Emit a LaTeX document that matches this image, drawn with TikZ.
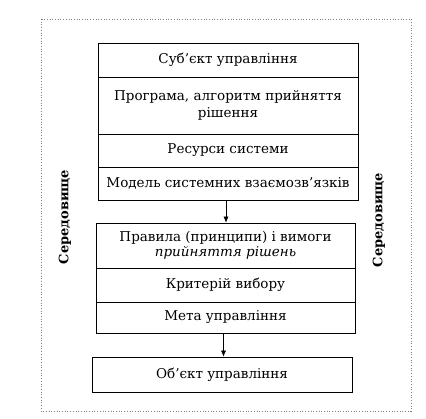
\documentclass[tikz,border=0pt]{standalone}
\usepackage{fontspec}
\setmainfont{DejaVu Serif}
\usetikzlibrary{arrows.meta}
\begin{document}
\begin{tikzpicture}[x=1pt,y=-1pt,
  row/.style={draw, line width=0.8pt, inner sep=0pt, align=center, font=\fontsize{13.5}{16}\selectfont},
  side/.style={font=\fontsize{13}{15}\selectfont\bfseries, rotate=90},
  arr/.style={-{Latex[length=6pt,width=5pt]}, line width=0.5pt}]
\useasboundingbox (0,0) rectangle (426,418);
\draw[dotted, line width=0.7pt, gray] (41,19) rectangle (411,411);
% block 1
\node[row, minimum width=260pt, minimum height=34pt] (s1) at (228,60) {Суб'єкт управління};
\node[row, minimum width=260pt, minimum height=57pt, font=\fontsize{13.5}{17}\selectfont] (s2) at (228,105.5) {Програма, алгоритм прийняття\\рішення};
\node[row, minimum width=260pt, minimum height=33pt] (s3) at (228,150.5) {Ресурси системи};
\node[row, minimum width=260pt, minimum height=33pt] (s4) at (228,183.5) {Модель системних взаємозв'язків};
% block 2
\node[row, minimum width=259pt, minimum height=45pt, font=\fontsize{13.5}{15.5}\selectfont] (r1) at (225.5,245.5) {Правила (принципи) і вимоги\\\textit{прийняття рішень}};
\node[row, minimum width=259pt, minimum height=34pt] (r2) at (225.5,285) {Критерій вибору};
\node[row, minimum width=259pt, minimum height=31pt] (r3) at (225.5,317.5) {Мета управління};
% block 3
\node[row, minimum width=260pt, minimum height=35pt] (o) at (222,374.5) {Об’єкт управління};
% arrows
\draw[arr] (s4.south) ++(-2,0) coordinate (a1) -- (a1 |- r1.north);
\draw[arr] (r3.south) ++(-2,0) coordinate (a2) -- (a2 |- o.north);
% side labels
\node[side] (left) at (65,217) {Середовище};
\node[side] (right) at (379,220) {Середовище};
\end{tikzpicture}
\end{document}
